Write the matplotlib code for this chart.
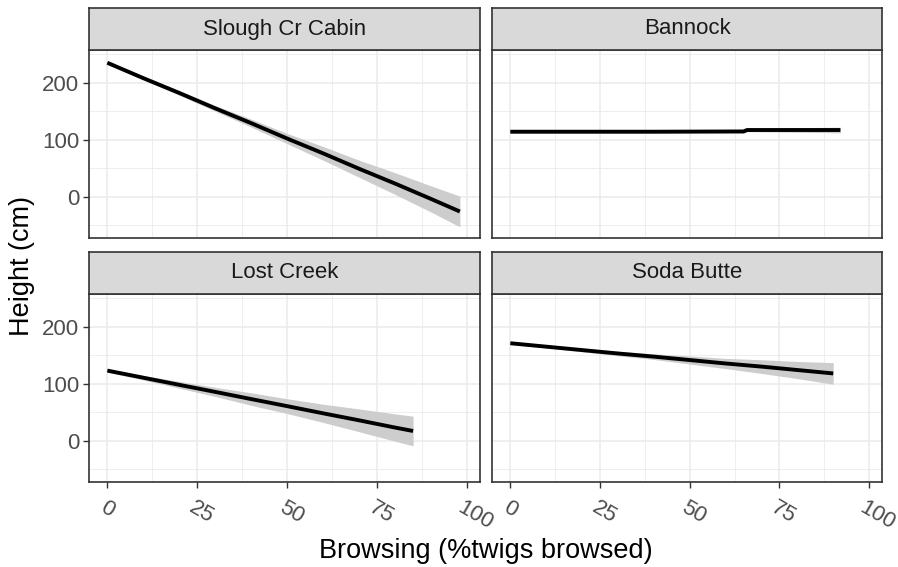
import matplotlib
matplotlib.use("Agg")
import matplotlib.pyplot as plt
import matplotlib.transforms as mtransforms
import numpy as np

plt.rcParams['font.family'] = ['Liberation Sans', 'DejaVu Sans']

# Fitted height vs. browsing for each site, with confidence band half-widths
sites = ["Slough Cr Cabin", "Bannock", "Lost Creek", "Soda Butte"]

slough_x = [0, 10, 20, 30, 40, 50, 60, 70, 80, 90, 98]
slough_fit = [235, 208, 182, 155, 129, 102, 76, 49, 23, -4, -26]
slough_se = [2, 3, 4, 5, 7, 9, 12, 15, 19, 23, 27]

bannock_x = [0, 20, 40, 65, 66, 80, 92]
bannock_fit = [114, 114, 114, 114.5, 117, 117, 117]
bannock_se = [2, 2, 2, 3, 3, 4, 5]

lost_x = [0, 10, 20, 30, 40, 50, 60, 70, 80, 85]
lost_fit = [123, 110.5, 98, 85.6, 73, 60.6, 48, 35.7, 23, 17]
lost_se = [3, 4, 6, 8, 11, 13, 16, 20, 24, 26]

soda_x = [0, 10, 20, 30, 40, 50, 60, 70, 80, 90]
soda_fit = [171, 165, 159, 153, 147.5, 141.5, 135.5, 130, 124, 118]
soda_se = [2, 2, 3, 4, 5, 7, 9, 12, 15, 19]

series = [
    (slough_x, slough_fit, slough_se),
    (bannock_x, bannock_fit, bannock_se),
    (lost_x, lost_fit, lost_se),
    (soda_x, soda_fit, soda_se),
]

x_ticks = [0, 25, 50, 75, 100]
x_tick_labels = ["0", "25", "50", "75", "100"]
y_ticks = [0, 100, 200]
y_tick_labels = ["0", "100", "200"]

W, H = 898, 567
fig = plt.figure(figsize=(W / 100, H / 100), dpi=100)

border = "#333333"
grid_major = "#EBEBEB"
strip_fill = "#D9D9D9"
tick_col = "#4D4D4D"
fs = 16          # tick labels and strip text
fs_title = 19.5  # axis titles

panel_px = [
    (89, 480, 50, 238), (492, 882, 50, 238),
    (89, 480, 294, 482), (492, 882, 294, 482),
]
strip_h = 42

for i, (name, (xs, fit, se)) in enumerate(zip(sites, series)):
    x0, x1, y0, y1 = panel_px[i]
    ax = fig.add_axes([x0 / W, 1 - y1 / H, (x1 - x0) / W, (y1 - y0) / H])
    xs = np.asarray(xs, float)
    fit = np.asarray(fit, float)
    se = np.asarray(se, float)
    ax.fill_between(xs, fit - se, fit + se, color="#CDCDCD", lw=0, zorder=2)
    ax.plot(xs, fit, color="black", lw=2.8, solid_capstyle="butt", zorder=3)

    ax.set_xlim(-5.1, 103.6)
    ax.set_ylim(-72.5, 257.4)
    ax.set_xticks(x_ticks)
    ax.set_yticks(y_ticks)
    ax.set_xticks([12.5, 37.5, 62.5, 87.5], minor=True)
    ax.set_yticks([-50, 50, 150, 250], minor=True)
    ax.grid(True, which="major", color=grid_major, lw=1.1, zorder=0)
    ax.grid(True, which="minor", color=grid_major, lw=0.6, zorder=0)
    ax.set_axisbelow(True)
    for s in ax.spines.values():
        s.set_color(border)
        s.set_linewidth(1.2)
    ax.tick_params(which="minor", length=0)
    ax.tick_params(which="major", color=border, length=4, width=1.0,
                   labelcolor=tick_col, labelsize=fs, pad=3)

    if i % 2 == 0:
        ax.set_yticklabels(y_tick_labels)
    else:
        ax.tick_params(axis="y", which="major", left=False, labelleft=False)
    if i >= 2:
        ax.set_xticklabels(x_tick_labels, rotation=-30, ha="center",
                           rotation_mode="default")
        ax.tick_params(axis="x", which="major", pad=7)
        for lab in ax.get_xticklabels():
            dx = 4 * (len(lab.get_text()) - 1) / 100
            shift = mtransforms.ScaledTranslation(dx, 0, fig.dpi_scale_trans)
            lab.set_transform(lab.get_transform() + shift)
    else:
        ax.tick_params(axis="x", which="major", bottom=False, labelbottom=False)

    # facet strip
    sax = fig.add_axes([x0 / W, 1 - y0 / H, (x1 - x0) / W, strip_h / H])
    sax.set_facecolor(strip_fill)
    sax.set_xticks([])
    sax.set_yticks([])
    for s in sax.spines.values():
        s.set_color(border)
        s.set_linewidth(1.2)
    sax.text(0.5, 0.5, name, ha="center", va="center", fontsize=fs,
             color="#1A1A1A", transform=sax.transAxes)

fig.text(485.5 / W, 1 - 558 / H, "Browsing (%twigs browsed)", ha="center",
         va="baseline", fontsize=fs_title, color="black")
fig.text(22 / W, 1 - 266 / H, "Height (cm)", ha="center", va="center",
         rotation=90, fontsize=fs_title, color="black")

fig.savefig("out.png", dpi=100, facecolor="white")
